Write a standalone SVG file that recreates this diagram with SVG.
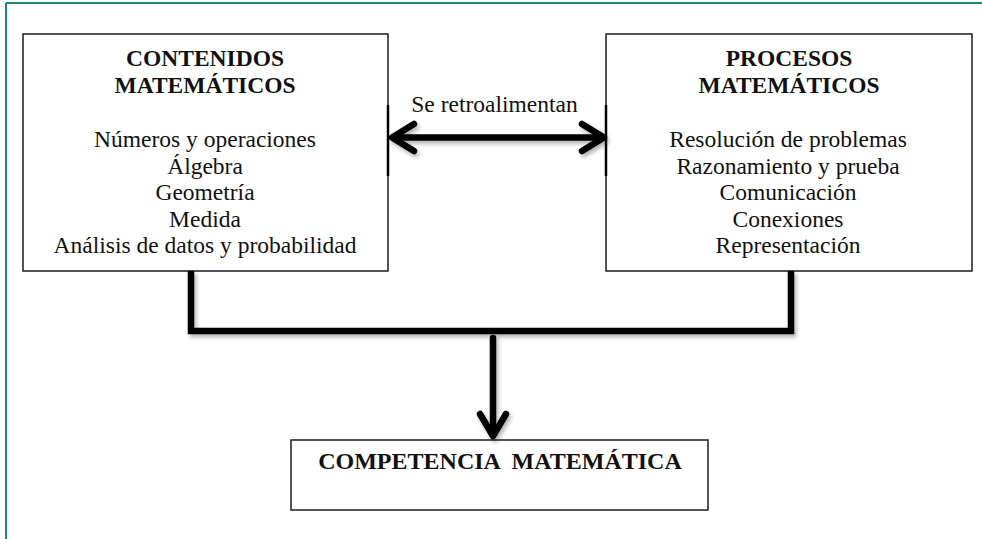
<svg xmlns="http://www.w3.org/2000/svg" width="982" height="539" viewBox="0 0 982 539">
<defs>
<style>
.box{fill:#fff;stroke:#2a2a2a;stroke-width:1.6}
.hd{font-family:"Liberation Serif","Times New Roman",serif;font-weight:bold;font-size:23.5px;fill:#111;text-anchor:middle}
.tx{font-family:"Liberation Serif","Times New Roman",serif;font-size:23.5px;fill:#111;text-anchor:middle}
.ln{fill:none;stroke:#000;stroke-width:6.5;stroke-linecap:round;stroke-linejoin:round}
.sq{fill:none;stroke:#000;stroke-width:6.5;stroke-linecap:square;stroke-linejoin:miter}
</style>
<filter id="sh" x="-10%" y="-10%" width="130%" height="140%">
<feDropShadow dx="2" dy="3" stdDeviation="2" flood-color="#000" flood-opacity="0.3"/>
</filter>
</defs>
<rect width="982" height="539" fill="#fff"/>
<g id="frame" fill="none" stroke="#1b8a74" stroke-width="2">
<line x1="6" y1="3" x2="982" y2="3"/>
<line x1="6" y1="3" x2="6" y2="539"/>
</g>
<g id="contenidos">
<rect class="box" x="23" y="34" width="365" height="237"/>
<text class="hd" x="205" y="66">CONTENIDOS</text>
<text class="hd" x="205" y="92.5">MATEMÁTICOS</text>
<text class="tx" x="205" y="147">Números y operaciones</text>
<text class="tx" x="205" y="173.5">Álgebra</text>
<text class="tx" x="205" y="200">Geometría</text>
<text class="tx" x="205" y="226.5">Medida</text>
<text class="tx" x="205" y="253">Análisis de datos y probabilidad</text>
</g>
<g id="procesos">
<rect class="box" x="606" y="34" width="366" height="237"/>
<text class="hd" x="789" y="66">PROCESOS</text>
<text class="hd" x="789" y="92.5">MATEMÁTICOS</text>
<text class="tx" x="788" y="147">Resolución de problemas</text>
<text class="tx" x="788" y="173.5">Razonamiento y prueba</text>
<text class="tx" x="788" y="200">Comunicación</text>
<text class="tx" x="788" y="226.5">Conexiones</text>
<text class="tx" x="788" y="253">Representación</text>
</g>
<g id="competencia">
<rect class="box" x="291" y="440" width="417" height="70"/>
<text class="hd" x="500" y="469" xml:space="preserve" style="font-size:24px">COMPETENCIA  MATEMÁTICA</text>
</g>
<g id="connectors">
<g filter="url(#sh)">
<line class="ln" x1="394" y1="137.5" x2="600" y2="137.5"/>
<polyline class="ln" points="414,124 392,137.5 414,151"/>
<polyline class="ln" points="582,124 604,137.5 582,151"/>
<polyline class="sq" points="191,274 191,331 791,331 791,274"/>
<line class="ln" x1="493" y1="338" x2="493" y2="434"/>
<polyline class="ln" points="480,414 493,436 506,414"/>
</g>
<line x1="388" y1="105" x2="388" y2="176" stroke="#000" stroke-width="2.5"/>
<line x1="606" y1="105" x2="606" y2="176" stroke="#000" stroke-width="2.5"/>
<text class="tx" x="494.5" y="112">Se retroalimentan</text>
</g>
</svg>
